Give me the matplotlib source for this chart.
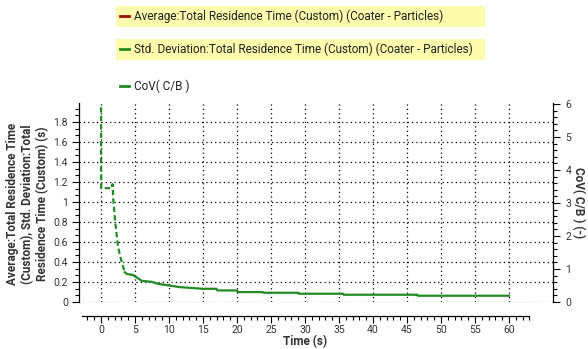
import matplotlib
matplotlib.use('Agg')
import matplotlib.pyplot as plt
from matplotlib.lines import Line2D
from matplotlib.ticker import MultipleLocator, FixedLocator

# CoV(C/B) over time
time_s = [0.0, 0.02, 1.6, 1.7, 1.8, 2.1, 2.5, 2.8, 3.2, 3.5,
          3.8, 4.7, 5.2, 6.0, 7.5, 8.4, 10.0, 11.6, 13.0, 15.0,
          17.0, 17.1, 20.0, 20.1, 23.8, 23.9, 29.0, 29.1, 35.6, 35.7,
          46.5, 46.6, 60.0]
cov = [5.9, 3.45, 3.45, 3.57, 3.1, 2.4, 1.68, 1.4, 1.1, 0.9,
       0.85, 0.82, 0.75, 0.64, 0.61, 0.55, 0.50, 0.45, 0.43, 0.40,
       0.40, 0.35, 0.35, 0.30, 0.30, 0.28, 0.28, 0.25, 0.25, 0.22,
       0.22, 0.19, 0.19]
n_dashed = 10  # early sparse points render dashed in the original

legend_labels = ['Average:Total Residence Time (Custom) (Coater - Particles)',
                 'Std. Deviation:Total Residence Time (Custom) (Coater - Particles)',
                 'CoV( C/B )']
x_ticks = list(range(0, 61, 5))
x_minor = list(range(-2, 64))
y_ticks = [0, 0.2, 0.4, 0.6, 0.8, 1.0, 1.2, 1.4, 1.6, 1.8]
y_ticklabels = ['0', '0.2', '0.4', '0.6', '0.8', '1', '1.2', '1.4', '1.6', '1.8']

RED = '#9b1010'
GREEN = '#228b22'
TXT = '#333333'

plt.rcParams['font.family'] = 'Roboto'

fig = plt.figure(figsize=(5.88, 3.49), dpi=100)
ax = fig.add_axes([79 / 588, 1 - 302 / 349, 474 / 588, 199 / 349])
ax2 = ax.twinx()

ax.set_xlim(-3.24, 66.47)
ax.set_ylim(0, 1.99)
ax2.set_ylim(0, 6.03)

ax2.plot(time_s[:n_dashed], cov[:n_dashed], color=GREEN, lw=1.6, dashes=(2.4, 1.4))
ax2.plot(time_s[n_dashed - 1:], cov[n_dashed - 1:], color=GREEN, lw=1.6)

# ticks
ax.set_xticks(x_ticks)
ax.xaxis.set_minor_locator(FixedLocator(x_minor))
ax.set_yticks(y_ticks)
ax.set_yticklabels(y_ticklabels)
ax.yaxis.set_minor_locator(MultipleLocator(0.2 / 3))
ax2.yaxis.set_major_locator(MultipleLocator(1))
ax2.yaxis.set_minor_locator(MultipleLocator(0.2))

for a in (ax, ax2):
    a.tick_params(which='major', length=5, width=0.8, colors='black', labelcolor=TXT, labelsize=7.5)
    a.tick_params(which='minor', length=3, width=0.8, colors='black')
    a.spines['top'].set_visible(False)
ax.tick_params(axis='y', pad=3)
ax2.tick_params(axis='y', pad=4)
ax.tick_params(axis='x', which='major', pad=1.5)

ax.spines['right'].set_visible(False)
ax2.spines['left'].set_visible(False)
ax2.spines['bottom'].set_visible(False)
ax.spines['bottom'].set_position(('outward', 10))
ax.spines['bottom'].set_bounds(-2.8, 63)
for s in ('left', 'bottom'):
    ax.spines[s].set_linewidth(0.9)
ax2.spines['right'].set_linewidth(0.9)

ax.grid(True, which='major', color='black', linestyle=(0, (1, 2.5)), linewidth=0.9)

fig.text(305 / 588, 1 - 345 / 349, 'Time (s)', ha='center', va='baseline',
         fontsize=8.5, fontweight='bold', color=TXT)
fig.text(27.5 / 588, 1 - 204 / 349,
         'Average:Total Residence Time\n(Custom), Std. Deviation:Total\nResidence Time (Custom) (s)',
         rotation=90, ha='center', va='center', fontsize=8.5, fontweight='bold',
         color=TXT, linespacing=1.15)
ax2.set_ylabel('CoV( C/B ) (-)', rotation=270, fontsize=8.5, fontweight='bold',
               color=TXT, labelpad=10)

# legend entries, one box each
handles = [Line2D([], [], color=RED, lw=2),
           Line2D([], [], color=GREEN, lw=2),
           Line2D([], [], color=GREEN, lw=2)]
tops = [6, 39, 76]
for h, lab, top, bg in zip(handles, legend_labels, tops, [True, True, False]):
    y1 = 1 - top / 349
    leg = fig.legend([h], [lab], loc='upper left',
                     bbox_to_anchor=(116 / 588, y1 - 21 / 349, 369 / 588, 21 / 349),
                     mode='expand', borderaxespad=0, borderpad=0.33,
                     handlelength=0.75, handletextpad=0.45, fontsize=8.5,
                     frameon=bg, fancybox=False)
    for t in leg.get_texts():
        t.set_color('#222222')
    if bg:
        leg.get_frame().set_facecolor('#fcfcac')
        leg.get_frame().set_edgecolor('none')
        leg.get_frame().set_alpha(1)

fig.savefig('out.png', dpi=100)
